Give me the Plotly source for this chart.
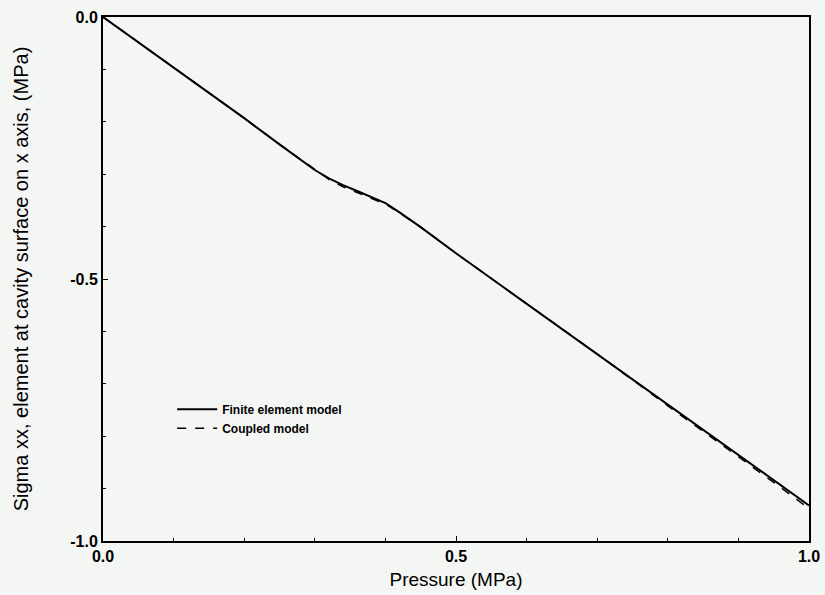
import plotly.graph_objects as go

pressure = [0.0, 0.05, 0.10, 0.15, 0.20, 0.25, 0.30, 0.32, 0.34, 0.36, 0.38, 0.40,
            0.42, 0.45, 0.50, 0.60, 0.70, 0.80, 0.90, 0.95, 1.00]
fe_model = [0.0, -0.048, -0.096, -0.144, -0.193, -0.243, -0.292, -0.308, -0.321,
            -0.332, -0.343, -0.355, -0.373, -0.401, -0.451, -0.547, -0.643, -0.740,
            -0.836, -0.884, -0.932]
coupled_model = [0.0, -0.048, -0.096, -0.144, -0.193, -0.243, -0.292, -0.310, -0.324,
                 -0.335, -0.346, -0.357, -0.374, -0.401, -0.451, -0.547, -0.643, -0.742,
                 -0.839, -0.888, -0.938]

x_ticks = [0.0, 0.5, 1.0]
x_tick_labels = ["<b>0.0</b>", "<b>0.5</b>", "<b>1.0</b>"]
y_ticks = [0.0, -0.5, -1.0]
y_tick_labels = ["<b>0.0</b>", "<b>-0.5</b>", "<b>-1.0</b>"]

bg = "#f4f6f4"
font_family = "Liberation Sans, Arial, sans-serif"

fig = go.Figure()
fig.add_trace(go.Scatter(x=pressure, y=fe_model, mode="lines", name="<b>Finite element model</b>",
                         line=dict(color="black", width=2)))
fig.add_trace(go.Scatter(x=pressure, y=coupled_model, mode="lines", name="<b>Coupled model</b>",
                         line=dict(color="black", width=1.5, dash="dash")))

axis_common = dict(showline=True, linecolor="black", linewidth=2, mirror=True,
                   ticks="inside", ticklen=5, tickcolor="black", tickwidth=1,
                   showgrid=False, zeroline=False, automargin=False,
                   tickfont=dict(family=font_family, size=16, color="black"))

fig.update_layout(
    width=825, height=595,
    margin=dict(l=103, r=16, t=17, b=54),
    paper_bgcolor=bg, plot_bgcolor=bg,
    font=dict(family=font_family, color="black"),
    xaxis=dict(range=[0, 1], tickvals=x_ticks, ticktext=x_tick_labels,
               title=dict(text="Pressure (MPa)", font=dict(size=19), standoff=8),
               minor=dict(ticks="inside", ticklen=3, dtick=0.1, tickcolor="black"),
               **axis_common),
    yaxis=dict(range=[-1, 0], tickvals=y_ticks, ticktext=y_tick_labels,
               title=dict(text="Sigma xx, element at cavity surface on x axis, (MPa)",
                          font=dict(size=20), standoff=36),
               minor=dict(ticks="inside", ticklen=3, dtick=0.1, tickcolor="black"),
               **axis_common),
    legend=dict(x=0.098, y=0.279, xanchor="left", yanchor="top",
                bgcolor="rgba(0,0,0,0)", font=dict(size=12, family=font_family),
                tracegroupgap=0, itemwidth=40),
    showlegend=True,
)

fig.write_html("out.html")
